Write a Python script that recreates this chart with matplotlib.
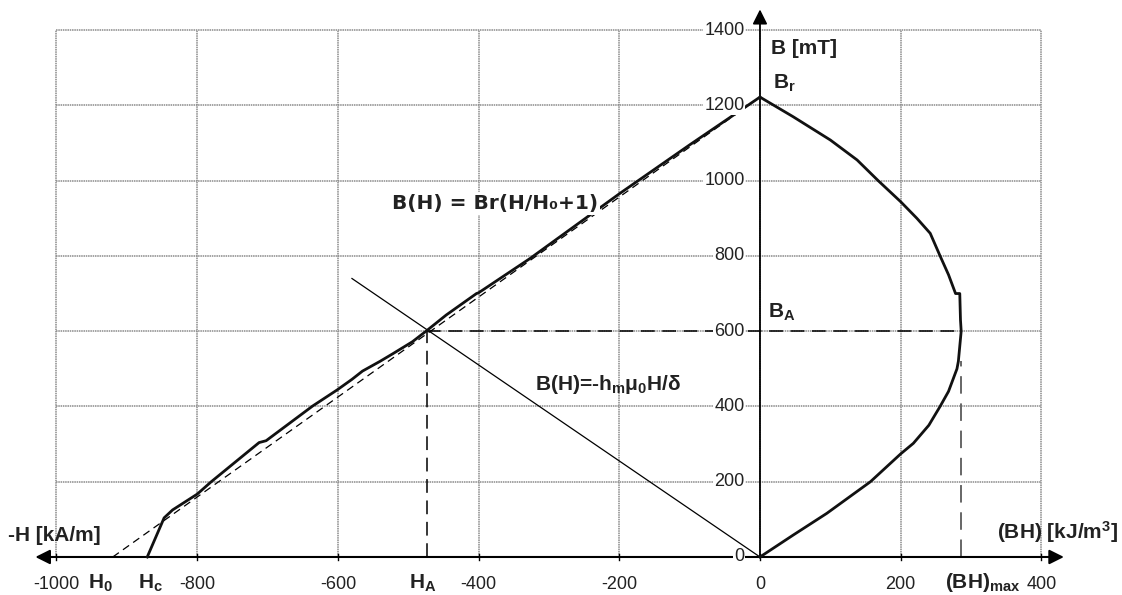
import matplotlib.pyplot as plt

plt.rcParams['font.family'] = 'Liberation Sans'
plt.rcParams['mathtext.fontset'] = 'custom'
plt.rcParams['mathtext.rm'] = 'Liberation Sans:bold'
plt.rcParams['mathtext.bf'] = 'Liberation Sans:bold'
plt.rcParams['mathtext.it'] = 'Liberation Sans:bold'

# demagnetisation curve B(H), H in kA/m (negative side)
demag_H = [-871, -847, -835, -800, -780, -712, -702, -636, -601, -580, -565,
           -540, -522, -494, -474, -446, -403, -400, -327, -200, -100, 0]
demag_B = [0, 104, 125, 167, 200, 304, 309, 401, 444, 472, 494,
           520, 540, 572, 601, 643, 700, 702, 793, 965, 1095, 1222]

# energy product (BH) in kJ/m3 against B (positive side)
bh_val = [0, 47, 95, 157, 200, 218, 240, 256, 268, 280, 282, 286, 285, 284,
          278, 268, 256, 242, 223, 200, 168, 138, 100, 47, 0]
bh_B = [0, 58, 116, 200, 274, 302, 350, 400, 440, 500, 520, 600, 630, 700,
        700, 750, 800, 860, 900, 944, 1000, 1055, 1108, 1170, 1222]

# characteristic points
Br = 1222
H0 = -920
Hc = -871
HA = -474
BA = 600
BH_max = 286
load_H = [0, -580]
load_B = [0, 740]

x_ticks = [-1000, -800, -600, -400, -200, 0, 200, 400]
y_ticks = [0, 200, 400, 600, 800, 1000, 1200, 1400]

fig = plt.figure(figsize=(11.22, 5.95), dpi=100)
ax = fig.add_axes([0, 0, 1, 1])
ax.set_xlim(-1080.3, 514.6)
ax.set_ylim(-101, 1480)
ax.axis('off')

# grid
grid_kw = dict(color='#8a8a8a', lw=1.1, ls=(0, (1, 0.5)), zorder=1)
for x in x_ticks:
    ax.plot([x, x], [0, 1400], **grid_kw)
for y in y_ticks[1:]:
    ax.plot([-1000, 400], [y, y], **grid_kw)

# axes with arrows
ax.annotate('', xy=(-1030, 0), xytext=(432, 0),
            arrowprops=dict(arrowstyle='<|-|>', color='black', lw=1.5,
                            mutation_scale=22, shrinkA=0, shrinkB=0), zorder=3)
ax.annotate('', xy=(0, 1455), xytext=(0, 0),
            arrowprops=dict(arrowstyle='-|>', color='black', lw=1.3,
                            mutation_scale=22, shrinkA=0, shrinkB=0), zorder=3)
for x in x_ticks:
    ax.plot([x, x], [-8, 8], color='black', lw=1, zorder=3)

for x in x_ticks:
    ax.text(x, -74, str(x), ha='center', va='center', fontsize=13, color='#222222')
for y in y_ticks:
    ax.text(-22, y, str(y), ha='right', va='center', fontsize=13, color='#222222',
            bbox=dict(fc='white', ec='none', pad=0.6), zorder=4)

# construction lines
ax.plot([H0, 0], [0, Br], color='black', lw=0.9, ls=(0, (6, 4)), zorder=2)
ax.plot(load_H, load_B, color='black', lw=0.9, zorder=2)
ax.plot([HA, HA], [0, BA], color='black', lw=1.1, ls=(0, (9, 5)), zorder=2)
ax.plot([HA, BH_max], [BA, BA], color='black', lw=1.1, ls=(0, (9, 5)), zorder=2)
ax.plot([BH_max, BH_max], [0, 520], color='#666666', lw=1.4, ls=(0, (9, 5)), zorder=2)

# curves
ax.plot(demag_H, demag_B, color='#111111', lw=2, zorder=3)
ax.plot(bh_val, bh_B, color='#111111', lw=2, zorder=3)

# labels
bold = dict(fontsize=15, fontweight='bold', color='#222222', zorder=5)
ax.text(-1069, 56, '-H [kA/m]', ha='left', va='center', **bold)
ax.text(-938, -69, r'$\mathbf{H_0}$', ha='center', va='center', **bold)
ax.text(-867, -69, r'$\mathbf{H_c}$', ha='center', va='center', **bold)
ax.text(-480, -69, r'$\mathbf{H_A}$', ha='center', va='center', **bold)
ax.text(15, 1350, 'B [mT]', ha='left', va='center', **bold)
ax.text(18, 1259, r'$\mathbf{B_r}$', ha='left', va='center', **bold)
ax.text(11, 651, r'$\mathbf{B_A}$', ha='left', va='center', **bold)
ax.text(-320, 457, r'B(H)=-h$_\mathbf{m}$μ$_\mathbf{0}$H/δ', ha='left', va='center', **bold)
ax.text(509, 66, r'(BH) [kJ/m$^\mathbf{3}$]', ha='right', va='center', **bold)
ax.text(317, -69, r'$\mathbf{(BH)_{max}}$', ha='center', va='center', **bold)
ax.text(-230, 940, 'B(H) = Br(H/H₀+1)', ha='right', va='center', fontsize=14.5,
        fontweight='bold', family='DejaVu Sans', color='#222222',
        bbox=dict(fc='white', ec='none', pad=1.5), zorder=5)

fig.savefig('out.png', dpi=100)
